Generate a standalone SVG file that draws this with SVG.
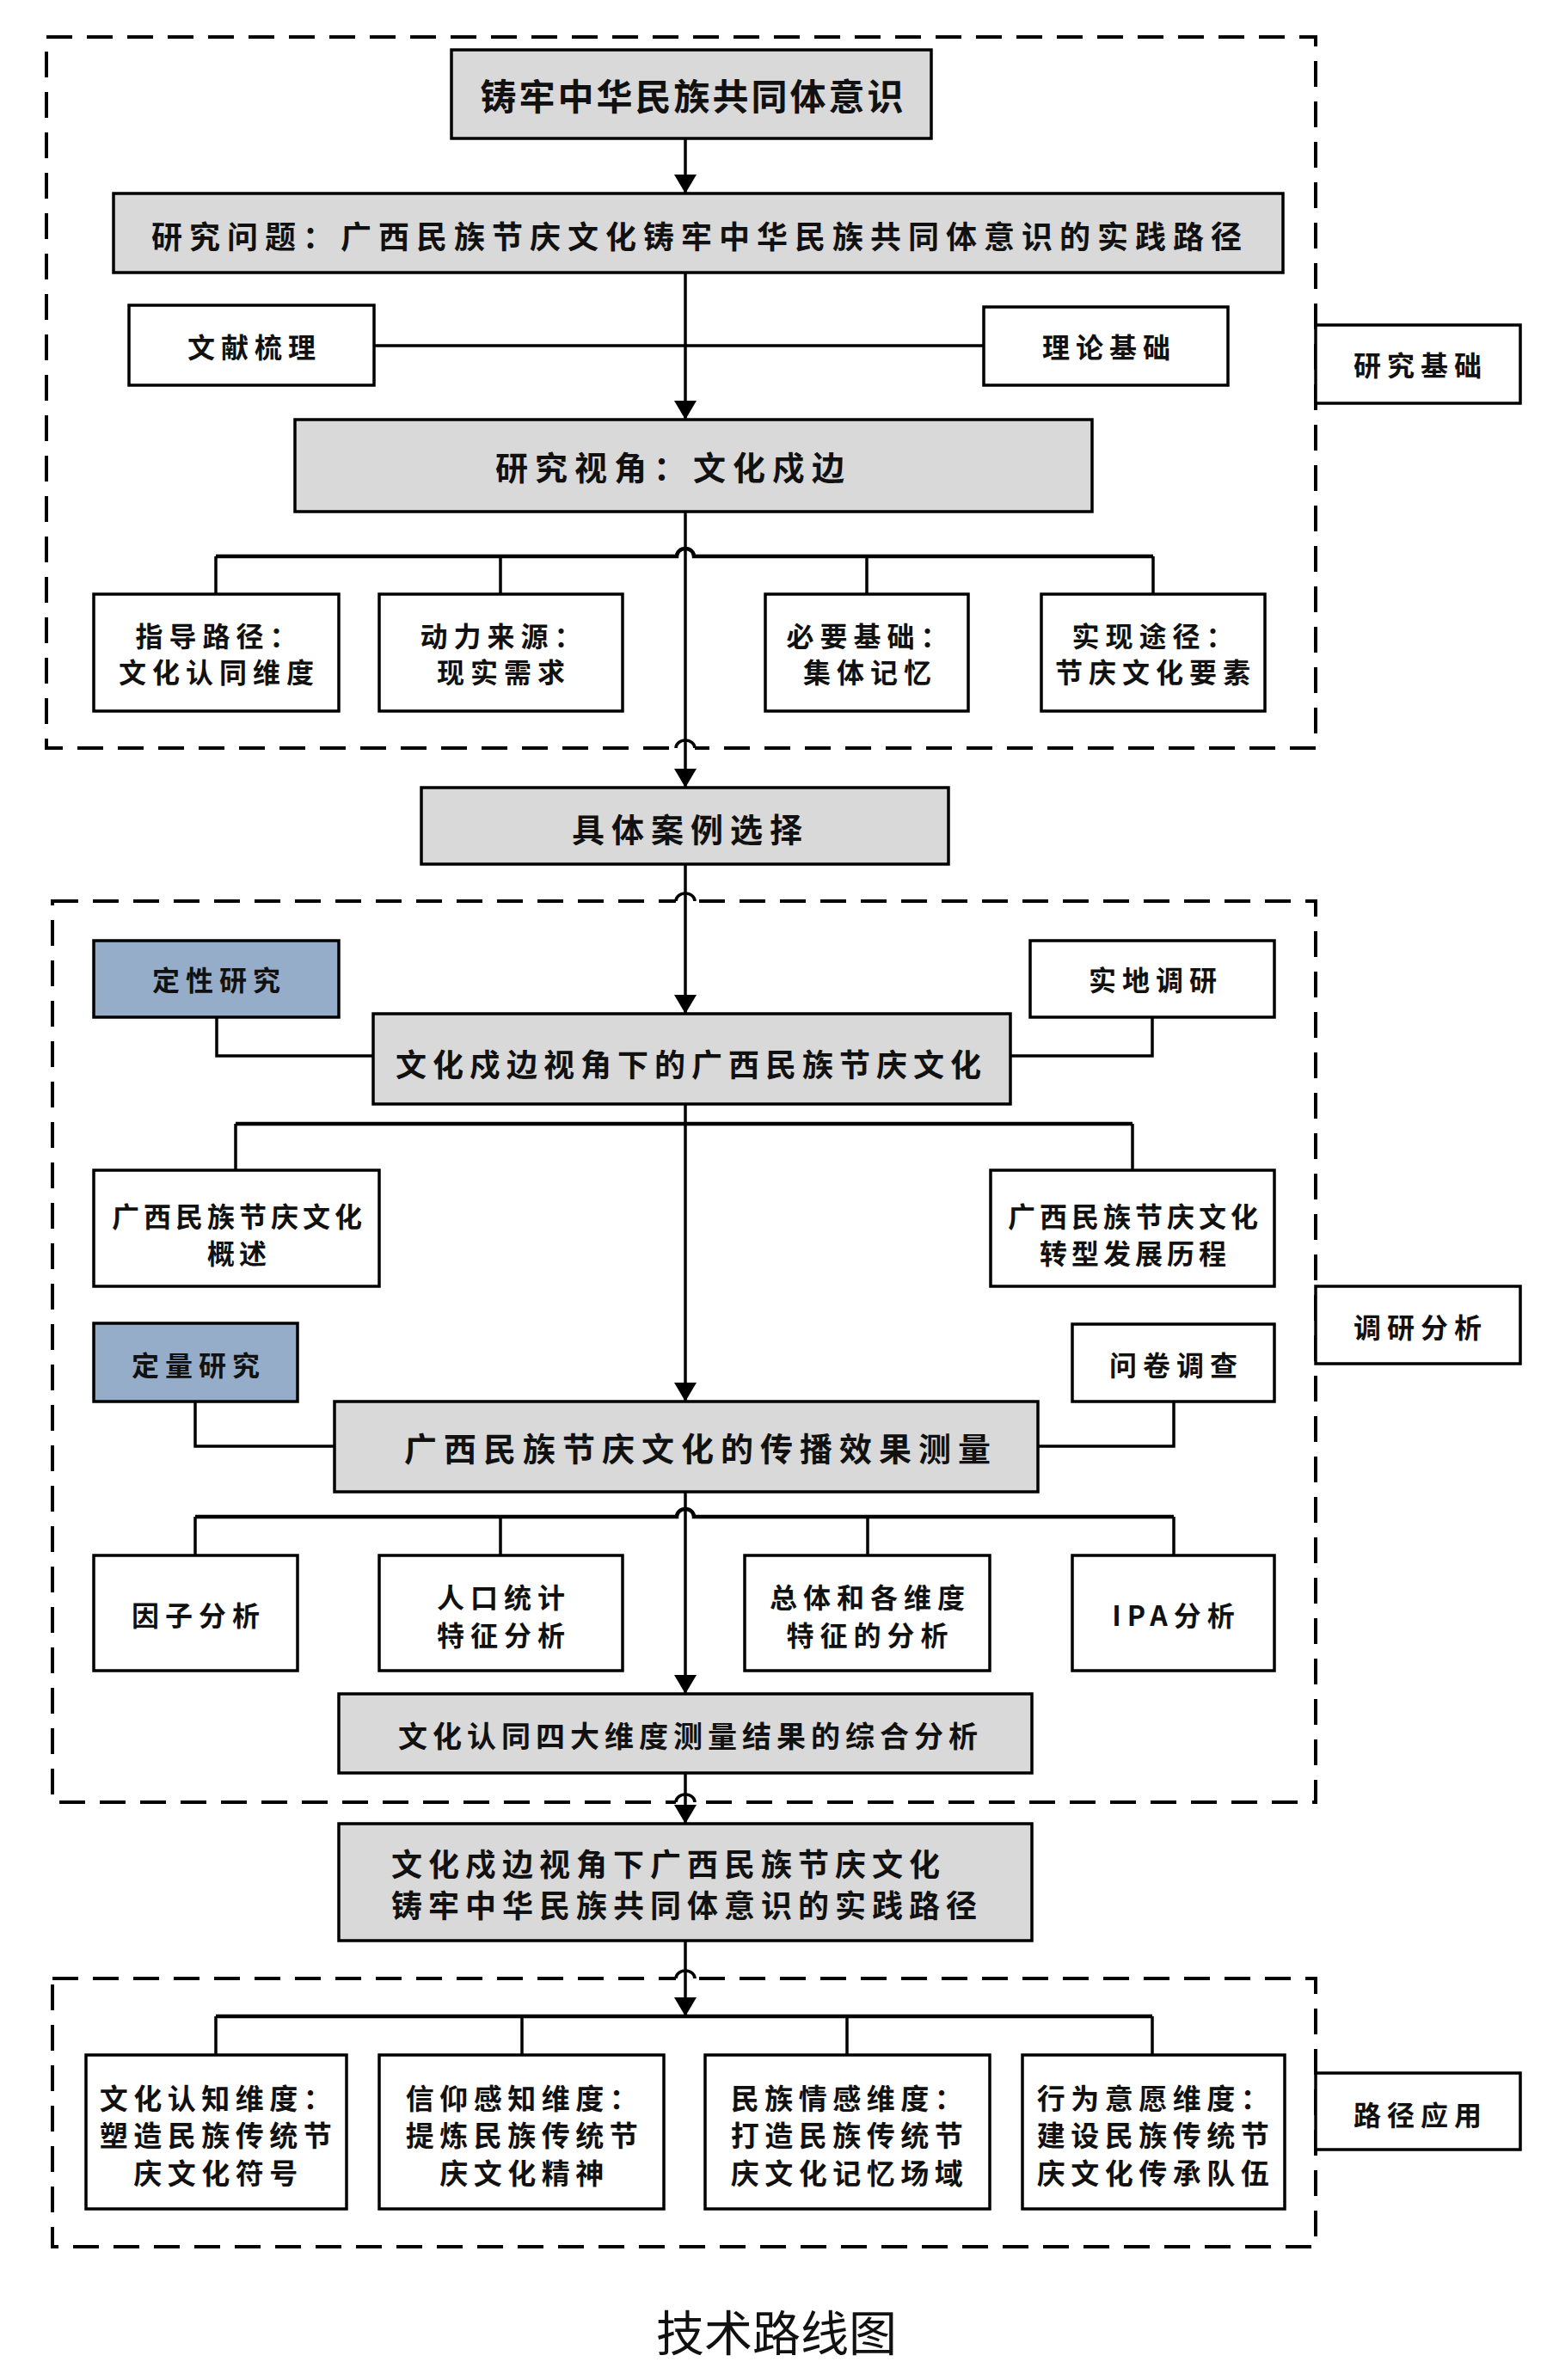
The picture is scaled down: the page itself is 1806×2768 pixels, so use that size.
<svg xmlns="http://www.w3.org/2000/svg" width="1806" height="2768" viewBox="0 0 1806 2768">
<style>
.bx{stroke:#000;stroke-width:3.5}
.g{fill:#d9d9d9}
.w{fill:#fff}
.b{fill:#95adc9}
.t{font-family:"Noto Sans CJK SC","Noto Sans",sans-serif;font-weight:bold;text-anchor:middle;dominant-baseline:central;fill:#111}
.s{text-anchor:start}
.ln{fill:none;stroke:#000;stroke-width:3.5}
.bus{fill:none;stroke:#000;stroke-width:4.5}
.dash{fill:none;stroke:#000;stroke-width:4;stroke-dasharray:30 17}
.f42{font-size:42px;letter-spacing:3px}
.f38{font-size:38px;letter-spacing:8px}
.f36{font-size:36px;letter-spacing:8px}
.f36b{font-size:36px;letter-spacing:7px}
.f34{font-size:34px;letter-spacing:6px}
.f33{font-size:33px;letter-spacing:6.5px}
.f32{font-size:32px;letter-spacing:7px}
.f32n{font-size:32px;letter-spacing:5px}
.f56{font-size:56px;font-weight:normal}
</style>
<defs>
<marker id="arr" markerUnits="userSpaceOnUse" viewBox="0 0 22 26" refX="22" refY="13" markerWidth="22" markerHeight="26" orient="auto">
<path d="M0 0 L22 13 L0 26 Z" fill="#000"/>
</marker>
</defs>
<rect width="1806" height="2768" fill="#fff"/>

<g id="frames">
<rect class="dash" x="54" y="43" width="1476" height="827"/>
<rect class="dash" x="61" y="1048" width="1469" height="1048"/>
<rect class="dash" x="61" y="2301" width="1469" height="312"/>
<rect x="786" y="866" width="22" height="8" fill="#fff"/>
<rect x="786" y="1044" width="22" height="8" fill="#fff"/>
<rect x="786" y="2092" width="22" height="8" fill="#fff"/>
<rect x="786" y="2297" width="22" height="8" fill="#fff"/>
<path class="ln" d="M786 870 a11 9 0 0 1 22 0"/>
<path class="ln" d="M786 1048 a11 9 0 0 1 22 0"/>
<path class="ln" d="M786 2096 a11 9 0 0 1 22 0"/>
<path class="ln" d="M786 2301 a11 9 0 0 1 22 0"/>
</g>

<g id="connectors">
<path class="ln" d="M797 161 V225" marker-end="url(#arr)"/>
<path class="ln" d="M797 317 V488" marker-end="url(#arr)"/>
<path class="ln" d="M435 402 H1144"/>
<path class="ln" d="M797 595 V916" marker-end="url(#arr)"/>
<path class="bus" d="M251 647 H787 a10 9 0 0 1 20 0 H1341"/>
<path class="ln" d="M251 647 V691 M582 647 V691 M1008 647 V691 M1341 647 V691"/>
<path class="ln" d="M797 1005 V1179" marker-end="url(#arr)"/>
<path class="ln" d="M252 1183 V1228 H434 M1340 1183 V1228 H1175"/>
<path class="ln" d="M797 1284 V1630" marker-end="url(#arr)"/>
<path class="bus" d="M274 1307 H1317"/>
<path class="ln" d="M274 1307 V1361 M1317 1307 V1361"/>
<path class="ln" d="M227 1630 V1682 H389 M1365 1630 V1682 H1207"/>
<path class="ln" d="M797 1735 V1970" marker-end="url(#arr)"/>
<path class="bus" d="M227 1764 H787 a10 9 0 0 1 20 0 H1365"/>
<path class="ln" d="M227 1764 V1809 M582 1764 V1809 M1009 1764 V1809 M1365 1764 V1809"/>
<path class="ln" d="M797 2062 V2121" marker-end="url(#arr)"/>
<path class="ln" d="M797 2257 V2345" marker-end="url(#arr)"/>
<path class="bus" d="M251 2345 H1340"/>
<path class="ln" d="M251 2345 V2390 M607 2345 V2390 M985 2345 V2390 M1340 2345 V2390"/>
</g>

<g id="n-top"><rect class="bx g" x="525" y="58" width="558" height="103"/><text class="t f42" x="806" y="109">铸牢中华民族共同体意识</text></g>
<g id="n-question"><rect class="bx g" x="132" y="225" width="1360" height="92"/><text class="t f36" x="814" y="273">研究问题：广西民族节庆文化铸牢中华民族共同体意识的实践路径</text></g>
<g id="n-wenxian"><rect class="bx w" x="150" y="355" width="285" height="93"/><text class="t f32" x="296" y="402">文献梳理</text></g>
<g id="n-lilun"><rect class="bx w" x="1144" y="357" width="284" height="91"/><text class="t f32" x="1290" y="402">理论基础</text></g>
<g id="n-jichu"><rect class="bx w" x="1530" y="378" width="238" height="91"/><text class="t f32" x="1652" y="423">研究基础</text></g>
<g id="n-shijiao"><rect class="bx g" x="343" y="488" width="927" height="107"/><text class="t f38" x="783" y="541">研究视角：文化戍边</text></g>
<g id="n-zhidao"><rect class="bx w" x="109" y="691" width="285" height="136"/><text class="t f32" y="738"><tspan x="255">指导路径：</tspan><tspan x="255" dy="42">文化认同维度</tspan></text></g>
<g id="n-dongli"><rect class="bx w" x="441" y="691" width="283" height="136"/><text class="t f32" y="738"><tspan x="586">动力来源：</tspan><tspan x="586" dy="42">现实需求</tspan></text></g>
<g id="n-biyao"><rect class="bx w" x="890" y="691" width="236" height="136"/><text class="t f32" y="738"><tspan x="1012">必要基础：</tspan><tspan x="1012" dy="42">集体记忆</tspan></text></g>
<g id="n-shixian"><rect class="bx w" x="1211" y="691" width="260" height="136"/><text class="t f32" y="738"><tspan x="1344">实现途径：</tspan><tspan x="1344" dy="42">节庆文化要素</tspan></text></g>
<g id="n-anli"><rect class="bx g" x="490" y="916" width="613" height="89"/><text class="t f38" x="803" y="962">具体案例选择</text></g>
<g id="n-dingxing"><rect class="bx b" x="109" y="1094" width="285" height="89"/><text class="t f32" x="255" y="1138">定性研究</text></g>
<g id="n-shidi"><rect class="bx w" x="1198" y="1094" width="284" height="89"/><text class="t f32" x="1344" y="1138">实地调研</text></g>
<g id="n-wenhua"><rect class="bx g" x="434" y="1179" width="741" height="105"/><text class="t f36b" x="804" y="1236">文化戍边视角下的广西民族节庆文化</text></g>
<g id="n-gaishu"><rect class="bx w" x="109" y="1361" width="332" height="135"/><text class="t f32n" y="1413"><tspan x="278">广西民族节庆文化</tspan><tspan x="278" dy="43">概述</tspan></text></g>
<g id="n-zhuanxing"><rect class="bx w" x="1152" y="1361" width="330" height="135"/><text class="t f32n" y="1413"><tspan x="1320">广西民族节庆文化</tspan><tspan x="1320" dy="43">转型发展历程</tspan></text></g>
<g id="n-diaoyan"><rect class="bx w" x="1530" y="1496" width="238" height="90"/><text class="t f32" x="1652" y="1542">调研分析</text></g>
<g id="n-dingliang"><rect class="bx b" x="109" y="1539" width="237" height="91"/><text class="t f32" x="231" y="1586">定量研究</text></g>
<g id="n-wenjuan"><rect class="bx w" x="1247" y="1540" width="235" height="90"/><text class="t f32" x="1368" y="1586">问卷调查</text></g>
<g id="n-chuanbo"><rect class="bx g" x="389" y="1630" width="818" height="105"/><text class="t f38" x="815" y="1682">广西民族节庆文化的传播效果测量</text></g>
<g id="n-yinzi"><rect class="bx w" x="109" y="1809" width="237" height="134"/><text class="t f32" x="231" y="1877">因子分析</text></g>
<g id="n-renkou"><rect class="bx w" x="441" y="1809" width="283" height="134"/><text class="t f32" y="1856"><tspan x="586">人口统计</tspan><tspan x="586" dy="44">特征分析</tspan></text></g>
<g id="n-zongti"><rect class="bx w" x="866" y="1809" width="285" height="134"/><text class="t f32" y="1856"><tspan x="1012">总体和各维度</tspan><tspan x="1012" dy="44">特征的分析</tspan></text></g>
<g id="n-ipa"><rect class="bx w" x="1247" y="1809" width="235" height="134"/><text class="t f32" x="1368" y="1877">IPA分析</text></g>
<g id="n-zonghe"><rect class="bx g" x="394" y="1970" width="806" height="92"/><text class="t f34" x="803" y="2017">文化认同四大维度测量结果的综合分析</text></g>
<g id="n-lujing"><rect class="bx g" x="394" y="2121" width="806" height="136"/><text class="t s f36b" y="2166"><tspan x="455">文化戍边视角下广西民族节庆文化</tspan><tspan x="455" dy="48">铸牢中华民族共同体意识的实践路径</tspan></text></g>
<g id="n-renzhi"><rect class="bx w" x="100" y="2390" width="303" height="179"/><text class="t f33" y="2439"><tspan x="254">文化认知维度：</tspan><tspan x="254" dy="43">塑造民族传统节</tspan><tspan x="254" dy="44">庆文化符号</tspan></text></g>
<g id="n-xinyang"><rect class="bx w" x="441" y="2390" width="331" height="179"/><text class="t f33" y="2439"><tspan x="610">信仰感知维度：</tspan><tspan x="610" dy="43">提炼民族传统节</tspan><tspan x="610" dy="44">庆文化精神</tspan></text></g>
<g id="n-qinggan"><rect class="bx w" x="820" y="2390" width="331" height="179"/><text class="t f33" y="2439"><tspan x="988">民族情感维度：</tspan><tspan x="988" dy="43">打造民族传统节</tspan><tspan x="988" dy="44">庆文化记忆场域</tspan></text></g>
<g id="n-xingwei"><rect class="bx w" x="1189" y="2390" width="305" height="179"/><text class="t f33" y="2439"><tspan x="1344">行为意愿维度：</tspan><tspan x="1344" dy="43">建设民族传统节</tspan><tspan x="1344" dy="44">庆文化传承队伍</tspan></text></g>
<g id="n-yingyong"><rect class="bx w" x="1530" y="2411" width="238" height="89"/><text class="t f32" x="1652" y="2458">路径应用</text></g>
<g id="title"><text class="t f56" x="903" y="2709">技术路线图</text></g>
</svg>
